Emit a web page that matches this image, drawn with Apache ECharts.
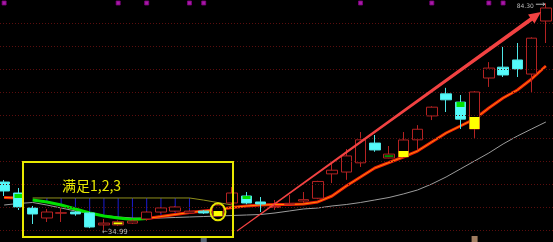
<!DOCTYPE html>
<html><head><meta charset="utf-8">
<script src="https://cdn.jsdelivr.net/npm/echarts@6/dist/echarts.min.js"></script>
<style>html,body{margin:0;padding:0;background:#000;}#c{width:553px;height:242px;}</style>
</head><body><div id="c"></div>
<script>
// ---- data ----
const days = ['1','2','3','4','5','6','7','8','9','10','11','12','13','14','15','16','17','18','19','20',
  '21','22','23','24','25','26','27','28','29','30','31','32','33','34','35','36','37','38','39'];
// [open, close, low, high]
const candles = [
  [45.43,43.48,42.39,45.87],[43.04,40.00,39.35,44.13],[39.78,38.48,36.30,40.22],[37.61,38.91,36.74,39.57],
  [38.65,38.75,36.74,39.78],[38.91,38.50,38.10,39.10],[38.70,35.65,35.40,38.90],[36.10,36.50,34.99,37.40],
  [36.10,36.80,35.90,37.10],[36.50,36.96,36.30,37.30],[37.40,38.90,37.00,39.10],[38.90,39.80,38.60,40.00],
  [39.10,40.00,38.90,40.20],[38.70,39.10,38.50,39.30],[39.10,38.70,38.50,39.30],[38.04,40.43,37.83,40.65],
  [40.87,43.04,40.50,44.35],[42.39,40.87,40.60,43.26],[41.09,40.65,38.90,42.17],[39.90,40.10,39.35,41.52],
  [40.60,40.80,40.60,42.60],[41.30,41.60,40.90,43.26],[41.90,45.55,41.70,45.70],[47.20,48.00,45.20,49.80],
  [47.60,51.10,45.90,52.60],[49.60,54.60,48.70,56.30],[53.90,52.40,52.00,55.65],[50.65,51.50,50.60,53.26],
  [50.87,54.57,50.70,56.30],[54.60,56.90,52.40,57.80],[59.80,61.70,58.90,61.90],[64.60,63.30,60.65,65.90],
  [62.80,59.10,56.96,64.35],[56.96,65.00,55.00,65.20],[68.04,70.20,66.10,71.50],[70.40,68.70,68.26,74.80],
  [71.96,70.00,68.26,75.65],[68.90,76.70,65.00,76.90],[80.43,83.26,75.65,84.30]
];
// highlighted parts of bodies [from, to]
const yellowParts = {8:[36.25,36.65], 15:[38.04,39.13], 28:[50.87,52.17], 33:[56.96,59.57]};
const greenParts  = {1:[41.96,42.83], 17:[41.74,42.39], 27:[50.95,51.20], 32:[61.74,62.83]};
// short moving average (coloured by trend)
const maShort = [42.07,41.96,41.52,41.09,40.43,39.57,38.70,38.04,37.61,37.28,37.50,37.93,38.37,38.80,39.13,
  39.46,39.89,40.22,40.43,40.54,40.54,40.65,41.09,42.39,44.57,46.52,48.48,49.67,50.87,52.17,54.13,56.09,
  57.61,59.13,61.52,63.70,65.43,67.83,70.65];
const fallingFrom = 2, fallingTo = 10; // green section (index range)
// long moving average
const maLong = [40.43,40.76,40.98,40.43,39.78,39.13,38.59,38.15,37.83,37.61,37.50,37.61,37.72,37.83,37.93,
  38.04,38.15,38.26,38.37,38.70,39.13,39.57,39.78,40.22,40.54,40.98,41.52,42.07,42.83,43.70,45.00,46.52,
  48.26,50.00,51.74,53.70,55.43,56.96,58.48];
// resistance level line
const resistance = [null,null,41.96,41.96,41.96,41.96,41.96,41.96,41.96,41.96,41.96,41.96,41.96,41.96,41.5,40.96,40.43,
  null,null,null,null,null,null,null,null,null,null,null,null,null,null,null,null,null,null,null,null,null,null];
const stripeDays = [3,4,5,6,7,8,9,10,11,12,13];
const signalDays = [0,8,10,13,14,25,30,34,35];
const signalLevel = 84.35;
const iconDays = [14,33];
const iconLevel = 33.04;
const gridLevels = [35,40,45,50,55,60,65,70,75,80];
const priceTop = 85, priceBottom = 32.39;
const highIdx = 38, highVal = 84.30, lowIdx = 7, lowVal = 34.99;

// ---- build ----
const greenMA = maShort.map((v,i)=> (i>=fallingFrom && i<=fallingTo) ? v : null);
const redMA = maShort.map((v,i)=> (i<fallingFrom || i>=fallingTo) ? v : null);
redMA[fallingFrom] = null;
function partData(parts){
  return candles.map((c,i)=> parts[i] ? [parts[i][0],parts[i][1],Math.min(...parts[i]),Math.max(...parts[i])] : '-');
}
const chart = echarts.init(document.getElementById('c'));
chart.setOption({
  backgroundColor:'#000',
  animation:false,
  grid:{left:-3, top:0, width:556, height:242, outerBoundsMode:'none', containLabel:false},
  xAxis:{type:'category', data:days, boundaryGap:true, show:false},
  yAxis:{type:'value', min:priceBottom, max:priceTop, show:false, splitLine:{show:false}},
  series:[
    {type:'line', data:maLong, symbol:'none', z:1, silent:true, lineStyle:{color:'#9c9c9c', width:1},
      markLine:{silent:true, symbol:'none', label:{show:false}, animation:false,
        lineStyle:{color:'#5a0e0e', width:1, type:[1,2]},
        data:gridLevels.map(v=>({yAxis:v}))}},
    {type:'line', data:resistance, symbol:'none', z:1, silent:true, lineStyle:{color:'#8f8f1c', width:1}},
    {type:'custom', z:1, silent:true,
      data: stripeDays.map(i=>[i, resistance[i], maShort[i]]),
      renderItem:(params, api)=>{
        const a = api.coord([api.value(0), api.value(1)]);
        const b = api.coord([api.value(0), api.value(2)]);
        return {type:'line', shape:{x1:a[0],y1:a[1],x2:b[0],y2:b[1]}, style:{stroke:'#1c1cd0', lineWidth:1}};
      }},
    {type:'line', data:greenMA, symbol:'none', z:2, silent:true, lineStyle:{color:'#00e000', width:3}},
    {type:'line', data:redMA, symbol:'none', z:2, silent:true, lineStyle:{color:'#ec1c0a', width:3}},
    {type:'line', data:redMA, symbol:'none', z:2, silent:true, lineStyle:{color:'#ff8a00', width:1}},
    {type:'candlestick', data:candles, barWidth:11, z:3,
      itemStyle:{color:'#000', color0:'#54fafa', borderColor:'#b42222', borderColor0:'#4fe6e6', borderWidth:1}},
    {type:'candlestick', data:partData(yellowParts), barWidth:10, z:4,
      itemStyle:{color:'#ffff00', color0:'#ffff00', borderColor:'#e8e800', borderColor0:'#e8e800', borderWidth:0}},
    {type:'candlestick', data:partData(greenParts), barWidth:9, z:4,
      itemStyle:{color:'#00e000', color0:'#00e000', borderColor:'#00d000', borderColor0:'#00d000', borderWidth:0}},
    {type:'scatter', data:signalDays.map(i=>[i, signalLevel]), symbol:'rect', symbolSize:4, z:5,
      itemStyle:{color:'#d020d0', borderColor:'#800080', borderWidth:1}},
    {type:'scatter', data:iconDays.map((i,k)=>({value:[i, iconLevel], itemStyle:{color: k===0?'#6a7c90':'#c89c78'}})),
      symbol:'rect', symbolSize:6, z:5}
  ]
});

// ---- annotations ----
const hp = chart.convertToPixel({gridIndex:0}, [highIdx, highVal]);
const lp = chart.convertToPixel({gridIndex:0}, [lowIdx, lowVal]);
const cp = chart.convertToPixel({gridIndex:0}, [15, 38.95]);
// tapered arrow
const S=[237,231], T=[541,12];
const dx=T[0]-S[0], dy=T[1]-S[1], L=Math.hypot(dx,dy);
const u=[dx/L,dy/L], n=[-u[1],u[0]];
const B=[T[0]-12*u[0], T[1]-12*u[1]];
const P=(p,w)=>[p[0]+w*n[0], p[1]+w*n[1]];
const arrowPts=[P(S,0.5),P(B,2),P(B,5.5),T,P(B,-5.5),P(B,-2),P(S,-0.5)];
chart.setOption({graphic:[
  {type:'rect', shape:{x:23, y:162, width:210, height:75}, style:{fill:null, stroke:'#e8e800', lineWidth:2}, z:100},
  {type:'text', x:62, y:186, style:{text:'满足1,2,3', fill:'#e8e800', font:'14px "Noto Sans CJK SC"', verticalAlign:'middle'}, z:100},
  {type:'ellipse', shape:{cx:cp[0], cy:cp[1], rx:7.5, ry:8.5}, style:{fill:null, stroke:'#e8e800', lineWidth:2}, z:100},
  {type:'polygon', shape:{points:arrowPts}, style:{fill:'#f24242'}, z:100},
  {type:'text', x:hp[0]-12, y:hp[1]+3, style:{text:'84.30', fill:'#b8b8b8', font:'6px "DejaVu Sans"', align:'right', verticalAlign:'middle'}, z:100},
  {type:'polyline', shape:{points:[[hp[0]-10,hp[1]+1],[hp[0]-1,hp[1]+1]]}, style:{stroke:'#b8b8b8', lineWidth:1}, z:100},
  {type:'polyline', shape:{points:[[hp[0]-3,hp[1]-0.5],[hp[0]-1,hp[1]+1],[hp[0]-3,hp[1]+2.5]]}, style:{stroke:'#b8b8b8', lineWidth:1, fill:null}, z:100},
  {type:'text', x:lp[0]-2, y:lp[1]+2.5, style:{text:'←34.99', fill:'#b8b8b8', font:'7px "DejaVu Sans"', verticalAlign:'middle'}, z:100}
]});
</script></body></html>
